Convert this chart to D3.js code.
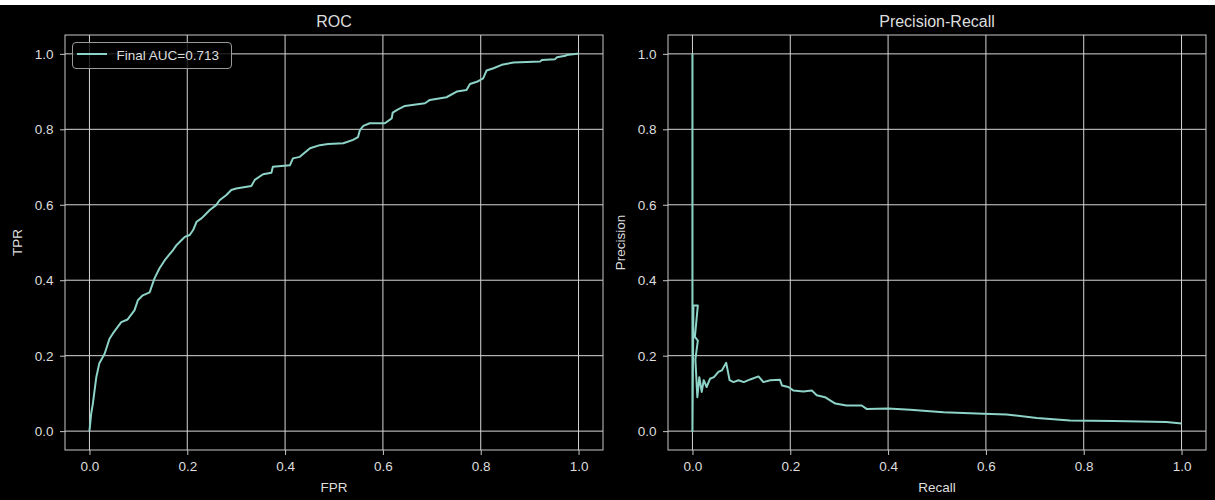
<!DOCTYPE html>
<html>
<head>
<meta charset="utf-8">
<script src="https://cdn.jsdelivr.net/npm/d3@7"></script>
<style>
  body { margin: 0; background: #fff; }
  text { font-family: "Liberation Sans", Arial, sans-serif; }
</style>
</head>
<body>
<script>
// ROC curve values
var rocFpr = [0, 0.0035, 0.007, 0.014, 0.020, 0.031, 0.041, 0.048, 0.065, 0.078, 0.092, 0.099, 0.109, 0.123, 0.133,
    0.143, 0.154, 0.164, 0.171, 0.178, 0.188, 0.195, 0.205, 0.212, 0.219, 0.229, 0.236, 0.246, 0.259, 0.266,
    0.280, 0.290, 0.300, 0.331, 0.338, 0.355, 0.372, 0.375, 0.410, 0.416, 0.430, 0.451, 0.471, 0.488, 0.519,
    0.539, 0.549, 0.553, 0.560, 0.573, 0.604, 0.618, 0.620, 0.631, 0.645, 0.686, 0.696, 0.730, 0.751, 0.771,
    0.778, 0.792, 0.805, 0.812, 0.826, 0.843, 0.867, 0.922, 0.925, 0.952, 0.956, 0.973, 0.976, 0.997, 1.0];
var rocTpr = [0, 0.046, 0.073, 0.143, 0.179, 0.205, 0.245, 0.259, 0.289, 0.296, 0.320, 0.347, 0.360, 0.368, 0.405,
    0.431, 0.453, 0.469, 0.480, 0.493, 0.506, 0.515, 0.520, 0.533, 0.555, 0.564, 0.573, 0.586, 0.599, 0.612,
    0.626, 0.639, 0.643, 0.650, 0.666, 0.681, 0.685, 0.701, 0.705, 0.723, 0.727, 0.750, 0.758, 0.761, 0.763,
    0.772, 0.779, 0.798, 0.809, 0.816, 0.816, 0.829, 0.844, 0.853, 0.862, 0.869, 0.878, 0.885, 0.900, 0.904,
    0.920, 0.926, 0.935, 0.956, 0.962, 0.971, 0.977, 0.980, 0.984, 0.986, 0.991, 0.995, 0.997, 1.0, 1.0];

// Precision-recall values
var prRecall = [0, 0, 0.002, 0.011, 0.005, 0.011, 0.006, 0.010, 0.014, 0.019, 0.023, 0.029, 0.036, 0.044, 0.053,
    0.060, 0.069, 0.076, 0.084, 0.094, 0.105, 0.118, 0.135, 0.145, 0.159, 0.179, 0.183, 0.196, 0.206, 0.227,
    0.244, 0.254, 0.271, 0.292, 0.315, 0.346, 0.356, 0.400, 0.445, 0.513, 0.595, 0.642, 0.704, 0.772, 0.860,
    0.969, 1.0];
var prPrecision = [1.0, 0, 0.333, 0.333, 0.25, 0.24, 0.19, 0.09, 0.143, 0.104, 0.135, 0.117, 0.139, 0.143, 0.157,
    0.161, 0.181, 0.135, 0.130, 0.135, 0.130, 0.137, 0.145, 0.130, 0.135, 0.136, 0.121, 0.117, 0.108, 0.105,
    0.108, 0.095, 0.090, 0.073, 0.068, 0.068, 0.059, 0.060, 0.057, 0.050, 0.046, 0.044, 0.035, 0.028, 0.027,
    0.024, 0.020];

var tickValues = [0, 0.2, 0.4, 0.6, 0.8, 1.0];
var legendLabel = 'Final AUC=0.713';

var lineColor = '#8dd3c7';
var textColor = '#dedede';
var gridColor = '#d6d6d6';
var frameColor = '#c8c8c8';

var svg = d3.select('body').append('svg')
    .attr('width', 1215)
    .attr('height', 500);

svg.append('rect').attr('width', 1215).attr('height', 500).attr('fill', '#fff');
svg.append('rect').attr('y', 5).attr('width', 1215).attr('height', 495).attr('fill', '#000');

var fmt = d3.format('.1f');

function drawPanel(opt) {
    var xScale = d3.scaleLinear().domain([-0.05, 1.05]).range([opt.left, opt.right]);
    var yScale = d3.scaleLinear().domain([-0.05, 1.05]).range([450, 35]);
    var g = svg.append('g');

    // grid lines sit under the curve
    g.selectAll('.vgrid').data(tickValues).enter().append('line')
        .attr('x1', function(d) { return xScale(d); })
        .attr('x2', function(d) { return xScale(d); })
        .attr('y1', 35).attr('y2', 450)
        .attr('stroke', gridColor).attr('stroke-width', 1);
    g.selectAll('.hgrid').data(tickValues).enter().append('line')
        .attr('y1', function(d) { return yScale(d); })
        .attr('y2', function(d) { return yScale(d); })
        .attr('x1', opt.left).attr('x2', opt.right)
        .attr('stroke', gridColor).attr('stroke-width', 1);

    var xAxisG = g.append('g')
        .attr('transform', 'translate(0,450)')
        .call(d3.axisBottom(xScale).tickValues(tickValues).tickFormat(fmt).tickSize(5).tickPadding(6.5));
    var yAxisG = g.append('g')
        .attr('transform', 'translate(' + opt.left + ',0)')
        .call(d3.axisLeft(yScale).tickValues(tickValues).tickFormat(fmt).tickSize(5).tickPadding(6.5));
    [xAxisG, yAxisG].forEach(function(a) {
        a.select('.domain').remove();
        a.selectAll('line').attr('stroke', frameColor);
        a.selectAll('text').attr('fill', textColor).style('font-size', '13.5px')
            .style('font-family', '"Liberation Sans", Arial, sans-serif');
    });

    var line = d3.line()
        .x(function(d) { return xScale(d[0]); })
        .y(function(d) { return yScale(d[1]); });
    g.append('path')
        .datum(d3.zip(opt.xs, opt.ys))
        .attr('d', line)
        .attr('fill', 'none')
        .attr('stroke', lineColor)
        .attr('stroke-width', 2)
        .attr('stroke-linejoin', 'round');

    g.append('rect')
        .attr('x', opt.left).attr('y', 35)
        .attr('width', opt.right - opt.left).attr('height', 415)
        .attr('fill', 'none').attr('stroke', frameColor).attr('stroke-width', 1);

    var mid = (opt.left + opt.right) / 2;
    g.append('text').attr('x', mid).attr('y', 27)
        .attr('text-anchor', 'middle').attr('fill', textColor)
        .style('font-size', '16px').text(opt.title);
    g.append('text').attr('x', mid).attr('y', 492)
        .attr('text-anchor', 'middle').attr('fill', textColor)
        .style('font-size', '13.5px').text(opt.xLabel);
    g.append('text')
        .attr('transform', 'translate(' + (opt.left - 43) + ',242.5) rotate(-90)')
        .attr('text-anchor', 'middle').attr('fill', textColor)
        .style('font-size', '13.5px').text(opt.yLabel);

    return g;
}

var rocG = drawPanel({left: 65, right: 603, xs: rocFpr, ys: rocTpr,
    title: 'ROC', xLabel: 'FPR', yLabel: 'TPR'});
drawPanel({left: 668, right: 1206, xs: prRecall, ys: prPrecision,
    title: 'Precision-Recall', xLabel: 'Recall', yLabel: 'Precision'});

// legend box on the ROC panel
var legendG = rocG.append('g').attr('transform', 'translate(72.5,42.5)');
legendG.append('rect')
    .attr('width', 159).attr('height', 26).attr('rx', 3.5)
    .attr('fill', '#000').attr('fill-opacity', 0.8)
    .attr('stroke', '#9a9a9a').attr('stroke-width', 1);
legendG.append('line')
    .attr('x1', 4.5).attr('x2', 34.5).attr('y1', 11.5).attr('y2', 11.5)
    .attr('stroke', lineColor).attr('stroke-width', 2);
legendG.append('text')
    .attr('x', 44).attr('y', 17)
    .attr('fill', textColor).style('font-size', '13.5px')
    .text(legendLabel);
</script>
</body>
</html>
